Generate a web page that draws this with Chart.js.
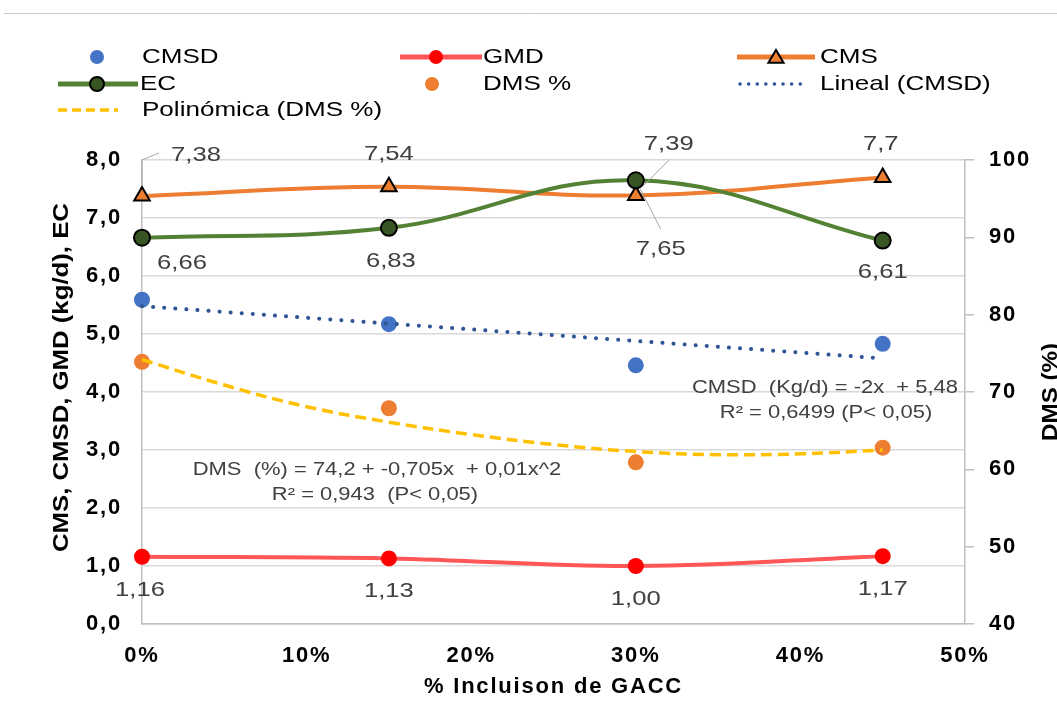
<!DOCTYPE html>
<html><head><meta charset="utf-8">
<script src="https://cdn.jsdelivr.net/npm/chart.js@4.4.1/dist/chart.umd.min.js"></script>
<style>html,body{margin:0;padding:0;background:#fff;}#wrap{position:relative;width:1057px;height:726px;}</style>
</head><body><div id="wrap"><canvas id="c" width="1057" height="726"></canvas></div>
<script>
// ---- data ----
const inclusion = [0, 15, 30, 45];            // % Incluison de GACC
const cmsd = [5.59, 5.17, 4.46, 4.83];        // CMSD (kg/d)
const gmd = [1.16, 1.13, 1.00, 1.17];         // GMD (kg/d)
const cms = [7.38, 7.54, 7.39, 7.70];         // CMS (kg/d)
const ec = [6.66, 6.83, 7.65, 6.61];          // EC
const dms = [73.9, 67.9, 60.9, 62.8];         // DMS %
const linealX = [0, 45];
const linealCMSD = [5.48, 4.58];              // Lineal (CMSD)
const polyX = [0, 5, 10, 15, 20, 25, 30, 35, 40, 45];
const polyDMS = [74.2, 70.9, 68.1, 66.1, 64.5, 63.2, 62.3, 61.9, 62.0, 62.5]; // Polinómica (DMS %)
const gmdLabels = ['1,16', '1,13', '1,00', '1,17'];
const cmsLabels = ['7,38', '7,54', '7,39', '7,7'];
const ecLabels = ['6,66', '6,83', '7,65', '6,61'];
const eqCMSD = ['CMSD  (Kg/d) = -2x  + 5,48', 'R² = 0,6499 (P< 0,05)'];
const eqDMS = ['DMS  (%) = 74,2 + -0,705x  + 0,01x^2', 'R² = 0,943  (P< 0,05)'];
const legendNames = ['CMSD', 'GMD', 'CMS', 'EC', 'DMS %', 'Lineal (CMSD)', 'Polinómica (DMS %)'];
const yTitle = 'CMS, CMSD, GMD (kg/d), EC';
const y2Title = 'DMS (%)';
const xTitle = '% Incluison de GACC';

const pts = (xs, ys) => xs.map((x, i) => ({x: x, y: ys[i]}));
const FONT = '"Liberation Sans", Arial, sans-serif';
const C = {blue:'#4472C4', red:'#FF0000', redLine:'#FF5757', orange:'#ED7D31', green:'#548235', dkGreen:'#375623', trendBlue:'#2F5597', yellow:'#FFC000', grid:'#D9D9D9', axis:'#BFBFBF', text:'#404040'};

function txt(ctx, s, x, y, font, align, sx, color, rot) {
  ctx.save();
  ctx.letterSpacing = '0px';
  ctx.font = font; ctx.fillStyle = color; ctx.textAlign = align; ctx.textBaseline = 'middle';
  ctx.translate(x, y);
  if (rot) ctx.rotate(rot);
  ctx.scale(sx, 1);
  ctx.fillText(s, 0, 0);
  ctx.restore();
}

const overlay = {
  id: 'overlay',
  beforeDraw(chart) {
    const ctx = chart.ctx;
    ctx.save();
    ctx.strokeStyle = '#C8C8C8'; ctx.lineWidth = 1;
    ctx.beginPath(); ctx.moveTo(4, 13.5); ctx.lineTo(1057, 13.5); ctx.stroke();
    ctx.restore();
    ctx.letterSpacing = '1.8px';   // widen the axis text like the reference
  },
  afterDatasetsDraw(chart) {
    const ctx = chart.ctx;
    const mG = chart.getDatasetMeta(1).data, mC = chart.getDatasetMeta(2).data, mE = chart.getDatasetMeta(3).data;
    ctx.save();
    ctx.strokeStyle = '#A6A6A6'; ctx.lineWidth = 1;
    let p = mC[0];
    ctx.beginPath(); ctx.moveTo(p.x, p.y - 10); ctx.lineTo(p.x, p.y - 36); ctx.lineTo(p.x + 17, p.y - 43); ctx.stroke();
    p = mC[2];
    ctx.beginPath(); ctx.moveTo(p.x + 34, p.y - 36); ctx.lineTo(p.x + 6, p.y - 8); ctx.stroke();
    p = mE[2];
    ctx.beginPath(); ctx.moveTo(p.x + 25, p.y + 49); ctx.lineTo(p.x + 4, p.y + 8); ctx.stroke();
    ctx.restore();
    const LF = '21px ' + FONT, SX = 1.22;
    const cmsOff = [[54, -41], [0, -32], [33, -51], [-2, -33]];
    const ecOff = [[40, 25], [2, 33], [25, 69], [0, 32]];
    const gOff = [[-2, 33], [0, 33], [0, 33], [0, 33]];
    mC.forEach((e, i) => txt(ctx, cmsLabels[i], e.x + cmsOff[i][0], e.y + cmsOff[i][1], LF, 'center', SX, C.text));
    mE.forEach((e, i) => txt(ctx, ecLabels[i], e.x + ecOff[i][0], e.y + ecOff[i][1], LF, 'center', SX, C.text));
    mG.forEach((e, i) => txt(ctx, gmdLabels[i], e.x + gOff[i][0], e.y + gOff[i][1], LF, 'center', SX, C.text));
    const EF = '18px ' + FONT;
    txt(ctx, eqCMSD[0], 825, 388, EF, 'center', 1.22, C.text); txt(ctx, eqCMSD[1], 826, 413, EF, 'center', 1.22, C.text);
    txt(ctx, eqDMS[0], 377, 470, EF, 'center', 1.22, C.text); txt(ctx, eqDMS[1], 375, 495, EF, 'center', 1.22, C.text);
  },
  afterDraw(chart) {
    const ctx = chart.ctx;
    const TF = 'bold 22px ' + FONT;
    txt(ctx, yTitle, 62, 552, TF, 'left', 1.17, '#000', -Math.PI / 2);
    txt(ctx, y2Title, 1051, 441, TF, 'left', 1.1, '#000', -Math.PI / 2);
    // legend
    ctx.save();
    const ds = chart.data.datasets;
    const dot = (x, y, r, fill, stroke, style) => {
      ctx.beginPath();
      if (style === 'triangle') {
        ctx.moveTo(x, y - r); ctx.lineTo(x + r * 0.95, y + r * 0.6); ctx.lineTo(x - r * 0.95, y + r * 0.6); ctx.closePath();
      } else ctx.arc(x, y, r, 0, Math.PI * 2);
      ctx.fillStyle = fill; ctx.fill();
      if (stroke) { ctx.strokeStyle = stroke; ctx.lineWidth = 2; ctx.stroke(); }
    };
    const line = (x1, x2, y, color, w, dash, cap) => {
      ctx.save(); ctx.strokeStyle = color; ctx.lineWidth = w; ctx.setLineDash(dash || []); ctx.lineCap = cap || 'butt';
      ctx.beginPath(); ctx.moveTo(x1, y); ctx.lineTo(x2, y); ctx.stroke(); ctx.restore();
    };
    const y1 = 57, y2 = 84, y3 = 110;
    dot(97, y1, 7, ds[0].backgroundColor);
    line(400, 482, y1, ds[1].borderColor, 5); dot(436, y1, 7, ds[1].pointBackgroundColor);
    line(737, 815, y1, ds[2].borderColor, 5); dot(776, y1 + 1, 8, ds[2].pointBackgroundColor, '#000', 'triangle');
    line(58, 138, y2, ds[3].borderColor, 5); dot(97, y2, 7, ds[3].pointBackgroundColor, '#000');
    dot(432, y2, 7, ds[4].backgroundColor);
    line(740, 803, y2, ds[5].borderColor, 3.5, [0.1, 8.5], 'round');
    line(58, 118, y3, ds[6].borderColor, 3.5, [9, 5]);
    ctx.restore();
    const GF = '21px ' + FONT, GS = 1.24;
    txt(ctx, legendNames[0], 142, y1, GF, 'left', GS, '#000');
    txt(ctx, legendNames[1], 483, y1, GF, 'left', GS, '#000');
    txt(ctx, legendNames[2], 820, y1, GF, 'left', GS, '#000');
    txt(ctx, legendNames[3], 140, y2, GF, 'left', GS, '#000');
    txt(ctx, legendNames[4], 483, y2, GF, 'left', GS, '#000');
    txt(ctx, legendNames[5], 820, y2, GF, 'left', GS, '#000');
    txt(ctx, legendNames[6], 142, y3, GF, 'left', GS, '#000');
    ctx.letterSpacing = '0px';
  }
};

new Chart(document.getElementById('c'), {
  type: 'line',
  data: {
    datasets: [
      {label: legendNames[0], type: 'scatter', data: pts(inclusion, cmsd), yAxisID: 'y', backgroundColor: C.blue, borderColor: C.blue, pointRadius: 8, pointBorderWidth: 0, showLine: false, clip: false, order: 3},
      {label: legendNames[1], data: pts(inclusion, gmd), yAxisID: 'y', borderColor: C.redLine, borderWidth: 4, tension: 0.4, pointRadius: 8, pointBackgroundColor: C.red, pointBorderWidth: 0, clip: false, order: 2},
      {label: legendNames[2], data: pts(inclusion, cms), yAxisID: 'y', borderColor: C.orange, borderWidth: 4, tension: 0.4, pointStyle: 'triangle', pointRadius: 9, pointBackgroundColor: C.orange, pointBorderColor: '#000', pointBorderWidth: 2, clip: false, order: 2},
      {label: legendNames[3], data: pts(inclusion, ec), yAxisID: 'y', borderColor: C.green, borderWidth: 4, tension: 0.4, pointRadius: 8, pointBackgroundColor: C.dkGreen, pointBorderColor: '#000', pointBorderWidth: 2, clip: false, order: 1},
      {label: legendNames[4], type: 'scatter', data: pts(inclusion, dms), yAxisID: 'y2', backgroundColor: C.orange, borderColor: C.orange, pointRadius: 8, pointBorderWidth: 0, showLine: false, clip: false, order: 3},
      {label: legendNames[5], data: pts(linealX, linealCMSD), yAxisID: 'y', borderColor: C.trendBlue, borderWidth: 4, borderDash: [0.1, 11], borderCapStyle: 'round', pointRadius: 0, clip: false, order: 0},
      {label: legendNames[6], data: pts(polyX, polyDMS), yAxisID: 'y2', borderColor: C.yellow, borderWidth: 3.5, borderDash: [11, 6], tension: 0.4, pointRadius: 0, clip: false, order: 0}
    ]
  },
  options: {
    responsive: false, animation: false, devicePixelRatio: 1,
    layout: {padding: {top: 160, left: 0, right: 0, bottom: 0}},
    plugins: {legend: {display: false}, tooltip: {enabled: false}},
    scales: {
      x: {
        type: 'linear', min: 0, max: 50,
        afterFit: s => { s.height = 102; },
        grid: {display: false},
        border: {display: true, color: C.axis, width: 1.5},
        ticks: {stepSize: 10, padding: 11, color: '#000', font: {family: FONT, size: 22, weight: 'bold'}, callback: v => v + '%'},
        title: {display: true, text: xTitle, color: '#000', font: {family: FONT, size: 22, weight: 'bold'}, padding: {top: 0, bottom: 26}}
      },
      y: {
        position: 'left', min: 0, max: 8,
        afterFit: s => { s.width = 142; },
        grid: {color: C.grid, lineWidth: 1.5, drawTicks: false},
        border: {display: true, color: C.axis, width: 1.5},
        ticks: {stepSize: 1, padding: 20, color: '#000', font: {family: FONT, size: 22, weight: 'bold'}, callback: v => v.toFixed(1).replace('.', ',')}
      },
      y2: {
        position: 'right', min: 40, max: 100,
        afterFit: s => { s.width = 92; },
        grid: {display: true, drawOnChartArea: false, color: C.axis, lineWidth: 1.5, tickLength: 9},
        border: {display: true, color: C.axis, width: 1.5},
        ticks: {stepSize: 10, padding: 15, color: '#000', font: {family: FONT, size: 22, weight: 'bold'}}
      }
    }
  },
  plugins: [overlay]
});
</script></body></html>
